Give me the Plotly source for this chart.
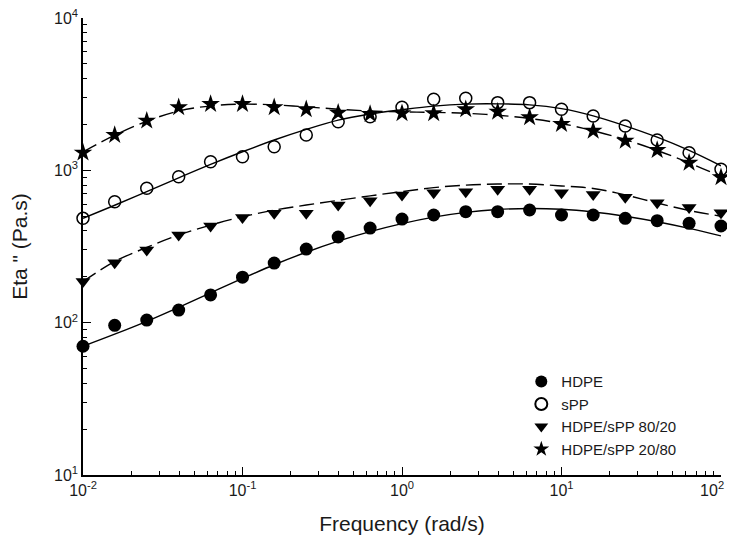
import plotly.graph_objects as go

# Frequencies (rad/s): 5 points per decade from 1e-2 to 1e2
freq = [0.01, 0.0158, 0.0251, 0.0398, 0.0631, 0.1, 0.158, 0.251, 0.398, 0.631,
        1.0, 1.58, 2.51, 3.98, 6.31, 10.0, 15.8, 25.1, 39.8, 63.1, 100.0]

# Measured Eta'' (Pa.s)
hdpe = [70, 96, 104, 121, 152, 199, 246, 304, 365, 418, 479, 509, 535, 535, 549,
        509, 509, 484, 467, 449, 431]
spp = [484, 622, 762, 908, 1138, 1228, 1429, 1706, 2084, 2249, 2595, 2925, 2972,
       2782, 2782, 2517, 2275, 1955, 1582, 1306, 1016]
b80_20 = [186, 247, 300, 376, 431, 491, 522, 522, 592, 631, 689, 713, 724, 750, 750,
          713, 695, 665, 613, 571, 527]
b20_80 = [1306, 1706, 2118, 2595, 2723, 2723, 2595, 2517, 2389, 2343, 2366, 2366,
          2517, 2426, 2228, 2015, 1820, 1563, 1357, 1122, 900]

# Fitted curves at the same frequencies
hdpe_fit = [70, 84, 102, 126, 157, 195, 240, 290, 343, 396, 447, 493, 530, 553, 562,
            555, 533, 500, 460, 416, 371]
spp_fit = [484, 590, 725, 893, 1094, 1324, 1582, 1858, 2138, 2343, 2500, 2640, 2720,
           2730, 2690, 2540, 2280, 1960, 1650, 1350, 1070]
b80_20_fit = [186, 252, 312, 376, 437, 496, 548, 592, 635, 680, 725, 770, 800, 813,
              813, 790, 760, 690, 610, 545, 500]
b20_80_fit = [1320, 1700, 2100, 2450, 2650, 2720, 2690, 2610, 2520, 2450, 2420, 2400,
              2370, 2300, 2190, 2030, 1820, 1590, 1350, 1120, 910]

names = ["HDPE", "sPP", "HDPE/sPP 80/20", "HDPE/sPP 20/80"]

# Tick labels (last one padded so it stays inside the window)
x_tickvals = [0.01, 0.1, 1, 10, 100]
x_ticktext = ["10<sup>-2</sup>", "10<sup>-1</sup>", "10<sup>0</sup>", "10<sup>1</sup>",
              "10<sup>2</sup>\u00a0\u00a0\u00a0\u00a0"]
y_tickvals = [10, 100, 1000, 10000]
y_ticktext = ["10<sup>1</sup>", "10<sup>2</sup>", "10<sup>3</sup>", "10<sup>4</sup>"]

FONT = "Arial, Liberation Sans, sans-serif"
TXT = "#1a1a1a"
fig = go.Figure()

fits = [(hdpe_fit, "solid"), (spp_fit, "solid"),
        (b80_20_fit, "15px,6px"), (b20_80_fit, "15px,6px")]
for vals, dash in fits:
    fig.add_trace(go.Scatter(x=freq, y=vals, mode="lines", showlegend=False,
                             line=dict(color="black", width=1.4, dash=dash,
                                       shape="spline", smoothing=1.0),
                             hoverinfo="skip"))

markers = [
    (hdpe, dict(symbol="circle", size=13, color="black")),
    (spp, dict(symbol="circle-open", size=12, color="black", line=dict(width=1.5))),
    (b80_20, dict(symbol="triangle-down", size=13, color="black")),
    (b20_80, dict(symbol="star", size=14, color="black")),
]
for (vals, mk), nm in zip(markers, names):
    fig.add_trace(go.Scatter(x=freq, y=vals, mode="markers", name=nm, marker=mk,
                             cliponaxis=False))

axis_common = dict(
    type="log", automargin=False, ticklabeloverflow="allow",
    showline=True, linecolor="black", linewidth=1.5, mirror=False,
    ticks="inside", ticklen=8, tickwidth=1.2, tickcolor="black",
    showgrid=False, zeroline=False,
    tickfont=dict(family=FONT, size=16, color=TXT),
    minor=dict(ticks="inside", ticklen=4, tickwidth=1, tickcolor="black",
               dtick="D1", showgrid=False),
)

fig.update_xaxes(range=[-2, 2], tickvals=x_tickvals, ticktext=x_ticktext,
                 title=dict(text="Frequency (rad/s)", font=dict(family=FONT, size=21, color=TXT),
                            standoff=18),
                 **axis_common)
fig.update_yaxes(range=[1, 4], tickvals=y_tickvals, ticktext=y_ticktext,
                 title=dict(text='Eta " (Pa.s)', font=dict(family=FONT, size=21, color=TXT),
                            standoff=22),
                 **axis_common)

fig.update_layout(
    width=727, height=531,
    margin=dict(l=75, r=14, t=10, b=64, autoexpand=False),
    plot_bgcolor="white", paper_bgcolor="white",
    font=dict(family=FONT, color=TXT),
    legend=dict(x=0.687, y=0.24, xanchor="left", yanchor="top",
                font=dict(family=FONT, size=15, color=TXT),
                bgcolor="rgba(0,0,0,0)", tracegroupgap=0, itemwidth=30,
                itemsizing="constant"),
)

fig.write_html("out.html")
